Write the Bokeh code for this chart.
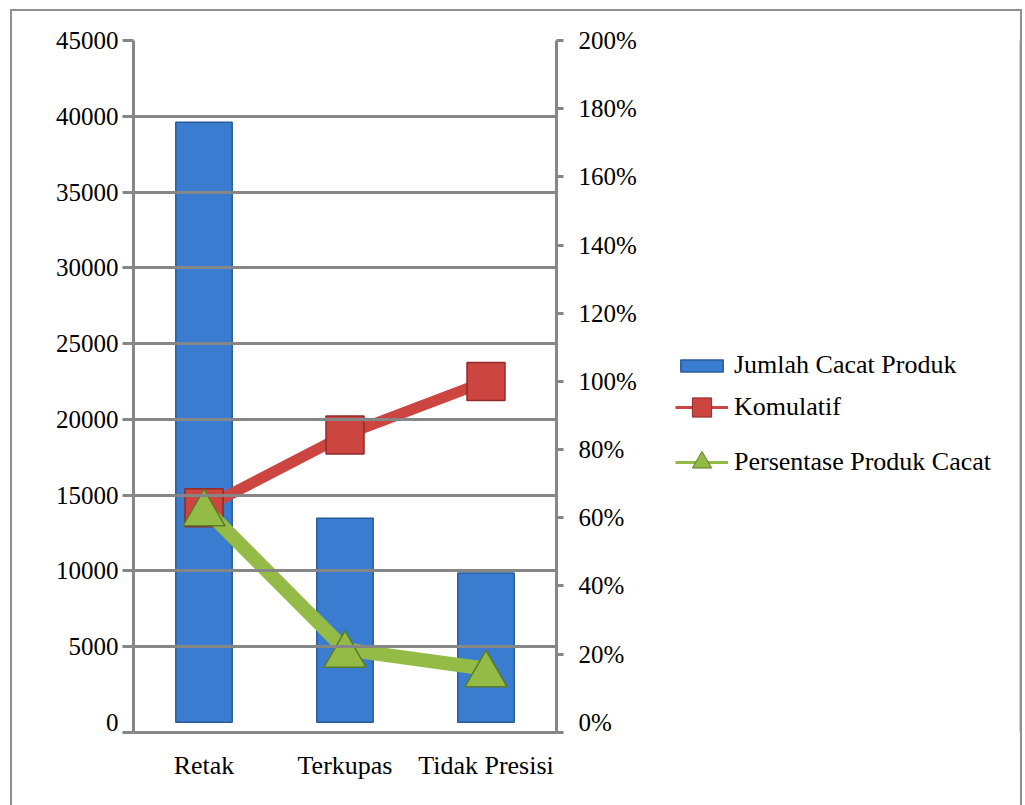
from bokeh.plotting import figure
from bokeh.layouts import row
from bokeh.models import (ColumnDataSource, FactorRange, Range1d, LinearAxis, FixedTicker,
                          NumeralTickFormatter, PrintfTickFormatter, CustomJSTickFormatter,
                          Legend, LegendItem)
from bokeh.transform import dodge
from bokeh.embed import file_html
from bokeh.resources import INLINE

# ---- data ----
categories = ["Retak", "Terkupas", "Tidak Presisi"]
jumlah_cacat = [39600, 13460, 9850]
komulatif = [62.9, 84.3, 100.0]
persentase = [62.9, 21.4, 15.7]
left_ticks = [5000, 10000, 15000, 20000, 25000, 30000, 35000, 40000, 45000]
right_ticks = [20, 40, 60, 80, 100, 120, 140, 160, 180, 200]

FONT = "Liberation Serif"
GRAY = "#868686"
BLUE = "#3a7ccf"
BLUE_EDGE = "#2a5a99"
RED = "#cc4541"
RED_EDGE = "#8e2a28"
GREEN = "#93bb45"
GREEN_EDGE = "#5f7a26"

LEFT_BOTTOM = -675
RIGHT_BOTTOM = -3

src = ColumnDataSource(data=dict(cat=categories, count=jumlah_cacat,
                                 cum=komulatif, pct=persentase))

WA = 121 + 423 + 112
H = 794
p = figure(x_range=FactorRange(*categories), y_range=Range1d(LEFT_BOTTOM, 45000),
           width=WA, height=H, output_backend="svg", toolbar_location=None,
           min_border_left=121, min_border_right=112, min_border_top=29, min_border_bottom=73)
p.extra_y_ranges = {"pct": Range1d(RIGHT_BOTTOM, 200)}
p.outline_line_color = None
p.background_fill_color = "white"
p.border_fill_color = "white"

bars = p.vbar(x="cat", top="count", width=0.4, source=src,
              fill_color=BLUE, line_color=BLUE_EDGE, line_width=1.5)
p.line(x="cat", y="cum", source=src, y_range_name="pct", line_color=RED, line_width=11)
p.scatter(x="cat", y="cum", source=src, y_range_name="pct", marker="square", size=38,
          fill_color=RED, line_color=RED_EDGE, line_width=1.5)
p.line(x="cat", y="pct", source=src, y_range_name="pct", line_color=GREEN, line_width=14)
p.scatter(x="cat", y=dodge("pct", -1.7, range=p.extra_y_ranges["pct"]), source=src,
          y_range_name="pct", marker="triangle", size=42,
          fill_color=GREEN, line_color=GREEN_EDGE, line_width=1.5)

blank = CustomJSTickFormatter(code="return ''")


def style_axis(ax, tick_out, standoff, show_line, show_ticks):
    ax.axis_line_color = GRAY if show_line else None
    ax.axis_line_width = 3
    ax.major_tick_line_color = GRAY if show_ticks else None
    ax.major_tick_line_width = 3
    ax.major_tick_out = tick_out
    ax.major_tick_in = 0
    ax.minor_tick_line_color = None
    ax.major_label_standoff = standoff
    ax.major_label_text_font = FONT
    ax.major_label_text_font_size = "25px"
    ax.major_label_text_color = "black"


# left axis: line + tick marks
la = p.yaxis[0]
la.ticker = FixedTicker(ticks=[LEFT_BOTTOM] + left_ticks)
la.formatter = blank
style_axis(la, 11, 0, True, True)
# left axis labels
la2 = LinearAxis(ticker=FixedTicker(ticks=[0] + left_ticks),
                 formatter=NumeralTickFormatter(format="0"))
style_axis(la2, 0, 4, False, False)
p.add_layout(la2, "left")

# right axis: line + tick marks
ra = LinearAxis(y_range_name="pct", ticker=FixedTicker(ticks=[RIGHT_BOTTOM] + right_ticks),
                formatter=blank)
style_axis(ra, 7, 0, True, True)
p.add_layout(ra, "right")
# right axis labels
ra2 = LinearAxis(y_range_name="pct", ticker=FixedTicker(ticks=[0] + right_ticks),
                 formatter=PrintfTickFormatter(format="%d%%"))
style_axis(ra2, 0, 15, False, False)
p.add_layout(ra2, "right")

# bottom axis
xa = p.xaxis[0]
xa.axis_line_color = GRAY
xa.axis_line_width = 3
xa.major_tick_line_color = None
xa.major_tick_out = 0
xa.major_tick_in = 0
xa.major_label_standoff = 18
xa.major_label_text_font = FONT
xa.major_label_text_font_size = "26px"
xa.major_label_text_color = "black"

# grid
p.xgrid.visible = False
p.ygrid.ticker = FixedTicker(ticks=left_ticks)
p.ygrid.grid_line_color = GRAY
p.ygrid.grid_line_width = 3
p.ygrid.level = "overlay"

# ---- legend panel ----
WB = 1008 - WA
q = figure(x_range=Range1d(0, 1), y_range=Range1d(0, 1), width=WB, height=H,
           output_backend="svg", toolbar_location=None, min_border=0,
           x_axis_type=None, y_axis_type=None)
q.xgrid.visible = False
q.ygrid.visible = False
q.outline_line_color = None
q.background_fill_color = "white"
q.border_fill_color = "white"

# legend-only renderers: their single point lies outside the (0..1) view
dummy = ColumnDataSource(data=dict(x=[5], y=[5]))
bl = q.vbar(x="x", top="y", width=0.4, source=dummy,
            fill_color=BLUE, line_color=BLUE_EDGE, line_width=1.5)
kl = q.line(x="x", y="y", source=dummy, line_color=RED, line_width=3)
ks = q.scatter(x="x", y="y", source=dummy, marker="square", size=19,
               fill_color=RED, line_color=RED_EDGE, line_width=1)
gl = q.line(x="x", y="y", source=dummy, line_color=GREEN, line_width=3)
gs = q.scatter(x="x", y="y", source=dummy, marker="triangle", size=21,
               fill_color=GREEN, line_color=GREEN_EDGE, line_width=1)


def mk_legend(label, renderers, vy, gh):
    leg = Legend(items=[LegendItem(label=label, renderers=renderers)], location=(7, vy),
                 orientation="vertical", border_line_color=None, background_fill_alpha=0,
                 padding=0, margin=0, spacing=0, label_standoff=6, glyph_width=53,
                 glyph_height=gh, label_text_font=FONT, label_text_font_size="26px",
                 label_text_color="black")
    q.add_layout(leg)


mk_legend("Jumlah Cacat Produk", [bl], 352, 15)
mk_legend("Komulatif", [kl, ks], 301, 48)
mk_legend("Persentase Produk Cacat", [gl, gs], 246, 48)

layout = row(p, q)
layout.styles = {"border": "2px solid #8f8f8f", "margin-left": "10px", "margin-top": "9px"}

open("out.html", "w").write(file_html(layout, INLINE))
